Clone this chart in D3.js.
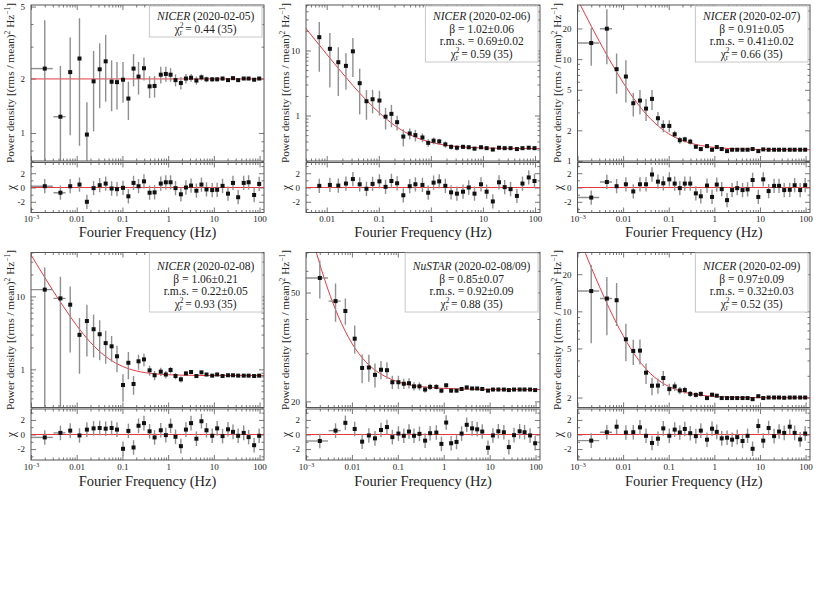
<!DOCTYPE html>
<html>
<head>
<meta charset="utf-8">
<script src="https://cdn.jsdelivr.net/npm/d3@7"></script>
<style>
body { margin: 0; background: #fff; }
svg text { font-family: 'Liberation Serif', 'Times New Roman', Times, serif; fill: #222; }
</style>
</head>
<body>
<div id="chart"></div>
<script>
// parameters
var svgWidth = 814;
var svgHeight = 610;

// frequency bins (Hz), shared by all panels
var freq = [0.002, 0.0044, 0.0072, 0.0115, 0.0167, 0.0234, 0.0318, 0.043, 0.058, 0.076,
    0.103, 0.135, 0.175, 0.225, 0.296, 0.393, 0.505, 0.69, 0.89, 1.13,
    1.45, 1.9, 2.45, 3.17, 4.15, 5.35, 6.9, 9.2, 11.8, 15.5,
    20.4, 26.2, 34, 45, 57.6, 76, 98];
// widths of the two lowest bins
var binLo = [0.001, 0.0031];
var binHi = [0.003, 0.0057];

// frequencies where the model curves were read
var modelFreq = [0.001, 0.0015, 0.002, 0.003, 0.005, 0.01, 0.02, 0.05, 0.1, 0.2, 0.5, 1, 2, 5, 20, 125];

// NICER 2020-02-05
var p1Power = [2.27, 1.23, 2.17, 2.58, 0.98, 1.93, 2.25, 2.49, 1.92, 1.91, 1.97, 1.55, 2.27, 2.05, 2.28, 1.81, 1.82, 2.1, 2.12, 2.1,
    1.96, 1.89, 2.0, 2.02, 1.95, 2.03, 1.98, 1.98, 1.98, 2.0, 1.96, 2.01, 1.96, 2.0, 2.0, 1.97, 2.0];
var p1Err = [1.93, 1.12, 1.2, 1.73, 0.5, 0.91, 0.88, 1.0, 0.6, 0.56, 0.5, 0.37, 0.46, 0.42, 0.33, 0.25, 0.25, 0.22, 0.2, 0.18,
    0.15, 0.15, 0.12, 0.1, 0.1, 0.08, 0.07, 0.06, 0.05, 0.05, 0.04, 0.04, 0.03, 0.03, 0.03, 0.03, 0.03];
var p1Chi = [0.18, -0.73, 0.18, 0.41, -2.0, -0.09, 0.32, 0.55, -0.14, -0.23, -0.05, -1.23, 0.64, 0.18, 0.86, -0.73, -0.68, 0.55, 0.73, 0.73,
    -0.09, -0.95, 0.0, 0.27, -0.45, 0.41, -0.27, -0.36, -0.32, 0.23, -0.86, 0.64, -1.36, 0.64, 0.73, -1.05, 0.5];
var p1Model = [1.99, 1.99, 1.99, 1.99, 1.99, 1.99, 1.99, 1.99, 1.99, 1.99, 1.99, 1.99, 1.99, 1.99, 1.99, 1.99];
var p1Legend = ["NICER", "2020-02-05", null, null, "0.44 (35)"];

// NICER 2020-02-06 (starts at the third bin)
var p2Power = [16.0, 10.6, 6.6, 5.8, 9.7, 3.14, 1.66, 1.78, 1.7, 0.96, 1.06, 0.79, 0.475, 0.53, 0.5, 0.46, 0.38, 0.41, 0.4, 0.36,
    0.33, 0.32, 0.33, 0.325, 0.31, 0.325, 0.315, 0.3, 0.32, 0.315, 0.315, 0.305, 0.315, 0.32, 0.315];
var p2Err = [11.3, 7.9, 4.6, 3.3, 5.8, 2.1, 0.8, 0.7, 0.7, 0.35, 0.4, 0.2, 0.14, 0.1, 0.1, 0.07, 0.05, 0.05, 0.04, 0.04,
    0.03, 0.03, 0.025, 0.02, 0.02, 0.02, 0.015, 0.015, 0.015, 0.012, 0.012, 0.01, 0.01, 0.01, 0.01];
var p2Chi = [0.23, 0.36, 0.27, 0.55, 1.18, 0.45, -0.18, 0.5, 0.86, 0.09, 0.91, 0.59, -1.09, 0.18, 0.45, 0.36, -0.73, 0.68, 0.86, 0.23,
    -0.68, -0.86, -0.59, 0.0, -0.86, 0.45, -0.59, -1.95, 0.73, 0.05, -0.23, -1.18, 0.55, 1.41, 0.91];
var p2Model = [89.9, 58.7, 43.9, 29.1, 17.4, 8.75, 4.48, 1.94, 1.12, 0.707, 0.466, 0.387, 0.348, 0.325, 0.314, 0.31];
var p2Legend = ["NICER", "2020-02-06", "1.02\u00b10.06", "0.69\u00b10.02", "0.59 (35)"];

// NICER 2020-02-07
var p3Power = [14.4, 19.9, 7.97, 6.75, 3.69, 3.92, 3.27, 4.07, 2.63, 2.21, 2.21, 1.83, 1.6, 1.63, 1.55, 1.38, 1.31, 1.4, 1.29, 1.37,
    1.31, 1.25, 1.29, 1.29, 1.29, 1.29, 1.31, 1.25, 1.3, 1.29, 1.29, 1.29, 1.29, 1.29, 1.29, 1.29, 1.29];
var p3Err = [5.8, 11, 3.4, 3.0, 0.95, 1.06, 0.8, 0.9, 0.4, 0.3, 0.3, 0.15, 0.12, 0.1, 0.1, 0.07, 0.06, 0.06, 0.05, 0.05,
    0.04, 0.04, 0.03, 0.03, 0.03, 0.02, 0.02, 0.02, 0.02, 0.015, 0.015, 0.015, 0.01, 0.01, 0.01, 0.01, 0.01];
var p3Chi = [-1.41, 0.77, 0.18, 0.45, -0.55, 0.45, 0.45, 1.82, 0.82, 0.59, 1.14, 0.55, -0.09, 0.55, 0.55, -0.82, -1.23, 0.27, -1.32, 0.41,
    -0.23, -1.77, -0.36, -0.09, -0.36, -0.27, 1.05, -1.32, 1.14, -0.5, 0.23, 0.23, -0.36, -0.32, 0.32, -0.36, 0.32];
var p3Model = [38.6, 27.1, 21.1, 15.0, 9.9, 5.88, 3.73, 2.35, 1.85, 1.59, 1.42, 1.36, 1.327, 1.306, 1.295, 1.29];
var p3Legend = ["NICER", "2020-02-07", "0.91\u00b10.05", "0.41\u00b10.02", "0.66 (35)"];

// NICER 2020-02-08
var p4Power = [12.4, 9.4, 7.7, 2.97, 4.6, 3.55, 3.03, 2.29, 2.07, 1.51, 0.61, 1.23, 0.63, 1.29, 1.37, 0.97, 0.83, 0.93, 0.85, 0.98,
    0.81, 0.73, 0.88, 0.92, 0.81, 0.91, 0.85, 0.82, 0.85, 0.81, 0.83, 0.83, 0.82, 0.82, 0.82, 0.81, 0.82];
var p4Err = [12.5, 9.2, 6.0, 2.1, 3.1, 2.1, 1.7, 1.1, 0.8, 0.6, 0.25, 0.5, 0.18, 0.3, 0.27, 0.15, 0.12, 0.12, 0.1, 0.1,
    0.08, 0.07, 0.06, 0.06, 0.05, 0.05, 0.04, 0.03, 0.03, 0.03, 0.025, 0.02, 0.02, 0.02, 0.015, 0.015, 0.015];
var p4Chi = [-0.4, 0.22, 0.53, -0.13, 0.67, 0.84, 0.89, 0.8, 0.89, 0.67, -1.96, 0.49, -1.78, 1.2, 1.56, 0.44, -0.4, 0.58, -0.09, 1.2,
    -0.31, -1.6, 0.67, 1.56, -0.58, 1.82, 0.58, -0.18, 0.84, -0.22, 0.71, 0.36, -0.18, 0.22, -0.36, -1.47, -0.18];
var p4Model = [37.1, 24.4, 18.2, 12.1, 7.42, 3.98, 2.34, 1.40, 1.10, 0.952, 0.87, 0.844, 0.832, 0.824, 0.821, 0.82];
var p4Legend = ["NICER", "2020-02-08", "1.06\u00b10.21", "0.22\u00b10.05", "0.93 (35)"];

// NuSTAR 2020-02-08/09
var p5Power = [56.5, 46.5, 42.8, 33.9, 26.5, 26.6, 25.0, 26.1, 26.0, 23.5, 23.5, 23.2, 23.3, 22.7, 22.7, 22.1, 22.6, 22.6, 21.9, 22.9,
    21.9, 21.9, 22.2, 22.5, 22.3, 22.3, 22.2, 21.9, 22.1, 22.1, 22.1, 22.0, 22.1, 22.1, 22.1, 22.1, 22.0];
var p5Err = [9, 7.4, 4.7, 4, 3.2, 3, 2.5, 2, 1.8, 1.3, 1.3, 1, 1, 0.8, 0.8, 0.6, 0.6, 0.5, 0.5, 0.45,
    0.4, 0.35, 0.3, 0.3, 0.25, 0.25, 0.2, 0.2, 0.2, 0.15, 0.15, 0.15, 0.12, 0.12, 0.1, 0.1, 0.1];
var p5Chi = [-0.89, 0.53, 1.6, 0.76, -0.98, -0.13, -0.53, 0.62, 1.02, -0.36, 0.13, -0.18, 0.4, -0.18, 0.09, -0.84, 0.18, 0.27, -1.29, 1.64,
    -1.2, -1.02, 0.13, 1.33, 0.84, 0.71, 0.4, -1.82, -0.13, 0.44, 0.31, -1.73, -0.09, 0.44, 0.31, -0.13, -1.2];
var p5Model = [96.6, 74.9, 63.4, 51.4, 41.1, 32.6, 27.9, 24.8, 23.6, 22.9, 22.5, 22.31, 22.22, 22.15, 22.12, 22.1];
var p5Legend = ["NuSTAR", "2020-02-08/09", "0.85\u00b10.07", "0.92\u00b10.09", "0.88 (35)"];

// NICER 2020-02-09
var p6Power = [14.6, 12.7, 12.3, 5.93, 4.77, 4.8, 3.18, 2.49, 2.5, 2.88, 2.34, 2.46, 2.28, 2.3, 2.14, 2.1, 2.14, 1.98, 2.11, 2.07,
    1.98, 1.98, 1.98, 1.98, 1.98, 1.98, 1.94, 2.05, 1.98, 2.0, 2.0, 2.0, 1.99, 2.0, 2.0, 2.0, 2.0];
var p6Err = [9.1, 6.3, 4.7, 2.0, 1.1, 1.1, 0.6, 0.4, 0.35, 0.4, 0.25, 0.2, 0.15, 0.15, 0.12, 0.1, 0.1, 0.08, 0.07, 0.06,
    0.05, 0.05, 0.04, 0.04, 0.04, 0.03, 0.03, 0.03, 0.03, 0.02, 0.02, 0.02, 0.02, 0.02, 0.015, 0.015, 0.015];
var p6Chi = [-0.84, 0.31, 1.07, 0.27, 0.31, 0.98, -0.18, -1.16, -0.58, 0.84, -0.18, 0.67, 0.27, 0.76, 0.18, -0.22, 0.53, -0.71, 0.8, 0.36,
    -0.53, -0.44, -0.71, -0.36, -0.89, -0.18, -1.96, 1.16, -0.84, 0.89, -0.22, 0.4, 0.22, 1.07, 0.22, -0.67, 0.13];
var p6Model = [42.6, 29.4, 22.7, 16.0, 10.5, 6.35, 4.21, 2.90, 2.46, 2.23, 2.09, 2.04, 2.016, 2.0, 1.993, 1.99];
var p6Legend = ["NICER", "2020-02-09", "0.97\u00b10.09", "0.32\u00b10.03", "0.52 (35)"];

// layout
var cols = [{left: 31, right: 264}, {left: 306, right: 540}, {left: 577.5, right: 810}];
var rows = [
    {top: 5, mainBottom: 161, resTop: 162.5, resBottom: 212.5, titleY: 237, boxTop: 6, textTop: 20},
    {top: 252.5, mainBottom: 407.5, resTop: 409, resBottom: 460, titleY: 486, boxTop: 253, textTop: 270}
];

var panels = [
    {row: 0, col: 0, first: 0, power: p1Power, err: p1Err, chi: p1Chi, model: p1Model, legend: p1Legend,
        xDomain: [0.001, 125], yDomain: [0.7, 5.1], yLabels: [1, 2, 5]},
    {row: 0, col: 1, first: 2, power: p2Power, err: p2Err, chi: p2Chi, model: p2Model, legend: p2Legend,
        xDomain: [0.004, 125], yDomain: [0.2, 50], yLabels: [1, 10]},
    {row: 0, col: 2, first: 0, power: p3Power, err: p3Err, chi: p3Chi, model: p3Model, legend: p3Legend,
        xDomain: [0.001, 125], yDomain: [1, 34], yLabels: [1, 2, 5, 10, 20]},
    {row: 1, col: 0, first: 0, power: p4Power, err: p4Err, chi: p4Chi, model: p4Model, legend: p4Legend,
        xDomain: [0.001, 125], yDomain: [0.3, 40], yLabels: [1, 10]},
    {row: 1, col: 1, first: 0, power: p5Power, err: p5Err, chi: p5Chi, model: p5Model, legend: p5Legend,
        xDomain: [0.001, 125], yDomain: [19, 70], yLabels: [20, 50]},
    {row: 1, col: 2, first: 0, power: p6Power, err: p6Err, chi: p6Chi, model: p6Model, legend: p6Legend,
        xDomain: [0.001, 125], yDomain: [1.66, 30], yLabels: [2, 5, 10, 20]}
];

var fontFamily = "'Liberation Serif', 'Times New Roman', Times, serif";
var frameColor = "#555";
var errColor = "#8f8f8f";
var modelColor = "#e8383d";

var svg = d3.select("#chart")
    .append("svg")
    .attr("width", svgWidth)
    .attr("height", svgHeight)
    .attr("font-family", fontFamily);

svg.append("rect").attr("width", svgWidth).attr("height", svgHeight).attr("fill", "#fff");

panels.forEach(function (p, i) {
    drawPanel(p, i);
});

function isMajor(v, majors) {
    return majors.some(function (m) { return Math.abs(v - m) / m < 1e-6; });
}

function tickLayer(g, axis, tx, ty, vals, size, fmt, pad) {
    var a = g.append("g")
        .attr("transform", `translate(${tx}, ${ty})`)
        .call(axis.tickValues(vals).tickSizeInner(-size).tickSizeOuter(0)
            .tickPadding(pad || 4).tickFormat(fmt || (() => "")));
    a.select(".domain").remove();
    a.attr("font-family", fontFamily).attr("font-size", null);
    a.selectAll("line").attr("stroke", frameColor).attr("stroke-width", 0.8);
    a.selectAll("text").attr("fill", "#333").attr("font-size", "9px");
    return a;
}

function drawPanel(p, idx) {
    var c = cols[p.col];
    var r = rows[p.row];
    var g = svg.append("g");

    var x = d3.scaleLog().domain(p.xDomain).range([c.left, c.right]);
    var y = d3.scaleLog().domain(p.yDomain).range([r.mainBottom, r.top]);
    var yr = d3.scaleLinear().domain([-3.5, 3.5]).range([r.resBottom, r.resTop]);

    var f = freq.slice(p.first);

    // clip paths
    var mainClip = "main-clip-" + idx;
    var resClip = "res-clip-" + idx;
    var defs = g.append("defs");
    defs.append("clipPath").attr("id", mainClip).append("rect")
        .attr("x", c.left).attr("y", r.top)
        .attr("width", c.right - c.left).attr("height", r.mainBottom - r.top);
    defs.append("clipPath").attr("id", resClip).append("rect")
        .attr("x", c.left).attr("y", r.resTop)
        .attr("width", c.right - c.left).attr("height", r.resBottom - r.resTop);

    // ticks x
    var xMajors = [0.001, 0.01, 0.1, 1, 10, 100].filter(v => v >= p.xDomain[0] && v <= p.xDomain[1]);
    var xMinors = x.ticks().filter(v => !isMajor(v, xMajors));
    [r.mainBottom, r.resBottom].forEach(function (yy) {
        tickLayer(g, d3.axisBottom(x), 0, yy, xMinors, 2.5);
    });
    [r.top, r.resTop].forEach(function (yy) {
        tickLayer(g, d3.axisTop(x), 0, yy, xMinors, 2.5);
        tickLayer(g, d3.axisTop(x), 0, yy, xMajors, 5);
    });
    tickLayer(g, d3.axisBottom(x), 0, r.mainBottom, xMajors, 5);
    var xl = tickLayer(g, d3.axisBottom(x), 0, r.resBottom, xMajors, 5, function (d) {
        return d === 0.001 ? "10" : String(d);
    }, 3.5);
    xl.selectAll("text").filter(d => d === 0.001)
        .append("tspan").attr("font-size", "6px").attr("dy", "-3").text("\u22123");

    // ticks y main
    var yMajors = p.yLabels;
    var yMinors = y.ticks().filter(v => !isMajor(v, yMajors));
    tickLayer(g, d3.axisLeft(y), c.left, 0, yMinors, 2.5);
    tickLayer(g, d3.axisLeft(y), c.left, 0, yMajors, 5, d => String(d), 6);
    tickLayer(g, d3.axisRight(y), c.right, 0, yMinors, 2.5);
    tickLayer(g, d3.axisRight(y), c.right, 0, yMajors, 5);

    // ticks y residuals
    tickLayer(g, d3.axisLeft(yr), c.left, 0, [-3, -1, 1, 3], 2.5);
    tickLayer(g, d3.axisLeft(yr), c.left, 0, [-2, 0, 2], 5, d => String(d), 6);
    tickLayer(g, d3.axisRight(yr), c.right, 0, [-3, -1, 1, 3], 2.5);
    tickLayer(g, d3.axisRight(yr), c.right, 0, [-2, 0, 2], 5);

    // model curve
    var modelPts = modelFreq.map((fr, k) => [fr, p.model[k]]);
    var line = d3.line()
        .x(d => x(d[0]))
        .y(d => y(d[1]))
        .curve(d3.curveMonotoneX);
    g.append("path")
        .attr("clip-path", `url(#${mainClip})`)
        .attr("d", line(modelPts))
        .attr("fill", "none")
        .attr("stroke", modelColor)
        .attr("stroke-width", 1);

    // residual zero line
    g.append("line")
        .attr("x1", c.left).attr("x2", c.right)
        .attr("y1", yr(0)).attr("y2", yr(0))
        .attr("stroke", modelColor).attr("stroke-width", 1);

    var pts = f.map((fr, k) => ({f: fr, k: k + p.first, v: p.power[k], e: p.err[k], chi: p.chi[k]}));

    var mainG = g.append("g").attr("clip-path", `url(#${mainClip})`);
    var resG = g.append("g").attr("clip-path", `url(#${resClip})`);

    // vertical error bars
    mainG.selectAll(".ebar")
        .data(pts)
        .enter()
        .append("line")
        .attr("x1", d => x(d.f)).attr("x2", d => x(d.f))
        .attr("y1", d => d.v - d.e > 0 ? y(d.v - d.e) : r.mainBottom + 10)
        .attr("y2", d => y(d.v + d.e))
        .attr("stroke", errColor).attr("stroke-width", 1.4);

    resG.selectAll(".rbar")
        .data(pts)
        .enter()
        .append("line")
        .attr("x1", d => x(d.f)).attr("x2", d => x(d.f))
        .attr("y1", d => yr(d.chi - 1))
        .attr("y2", d => yr(d.chi + 1))
        .attr("stroke", errColor).attr("stroke-width", 1.4);

    // horizontal bars for the two wide low-frequency bins
    var wide = pts.filter(d => d.k < binLo.length);
    mainG.selectAll(".hbar")
        .data(wide)
        .enter()
        .append("line")
        .attr("x1", d => x(binLo[d.k])).attr("x2", d => x(binHi[d.k]))
        .attr("y1", d => y(d.v)).attr("y2", d => y(d.v))
        .attr("stroke", errColor).attr("stroke-width", 1.4);
    resG.selectAll(".hbar")
        .data(wide)
        .enter()
        .append("line")
        .attr("x1", d => x(binLo[d.k])).attr("x2", d => x(binHi[d.k]))
        .attr("y1", d => yr(d.chi)).attr("y2", d => yr(d.chi))
        .attr("stroke", errColor).attr("stroke-width", 1.4);

    // markers
    mainG.selectAll(".pt")
        .data(pts)
        .enter()
        .append("rect")
        .attr("x", d => x(d.f) - 2).attr("y", d => y(d.v) - 2)
        .attr("width", 4).attr("height", 4)
        .attr("fill", "#111");
    resG.selectAll(".pt")
        .data(pts)
        .enter()
        .append("rect")
        .attr("x", d => x(d.f) - 2).attr("y", d => yr(d.chi) - 2)
        .attr("width", 4).attr("height", 4)
        .attr("fill", "#111");

    // frames
    g.append("rect")
        .attr("x", c.left).attr("y", r.top)
        .attr("width", c.right - c.left).attr("height", r.mainBottom - r.top)
        .attr("fill", "none").attr("stroke", frameColor).attr("stroke-width", 1);
    g.append("rect")
        .attr("x", c.left).attr("y", r.resTop)
        .attr("width", c.right - c.left).attr("height", r.resBottom - r.resTop)
        .attr("fill", "none").attr("stroke", frameColor).attr("stroke-width", 1);

    // axis titles
    var yt = g.append("text")
        .attr("transform", `translate(${c.left - 17}, ${(r.top + r.mainBottom) / 2}) rotate(-90)`)
        .attr("text-anchor", "middle")
        .attr("font-size", "11.3px")
        .text("Power density [(rms / mean)");
    yt.append("tspan").attr("font-size", "7.5px").attr("dy", -4).text("2");
    yt.append("tspan").attr("dy", 4).text(" Hz");
    yt.append("tspan").attr("font-size", "7.5px").attr("dy", -4).text("\u22121");
    yt.append("tspan").attr("dy", 4).text("]");

    g.append("text")
        .attr("transform", `translate(${c.left - 16}, ${(r.resTop + r.resBottom) / 2}) rotate(-90)`)
        .attr("text-anchor", "middle")
        .attr("font-size", "12px")
        .text("\u03c7");

    g.append("text")
        .attr("x", (c.left + c.right) / 2)
        .attr("y", r.titleY)
        .attr("text-anchor", "middle")
        .attr("font-size", "14.5px")
        .text("Fourier Frequency (Hz)");

    // legend box
    var box = g.append("rect")
        .attr("fill", "#fff")
        .attr("stroke", "#c8c8c8")
        .attr("stroke-width", 1);
    var lg = g.append("g");
    var lines = 0;
    var lineH = 12.5;

    var t0 = lg.append("text").attr("y", r.textTop).attr("text-anchor", "middle").attr("font-size", "11.5px");
    t0.append("tspan").attr("font-style", "italic").text(p.legend[0]);
    t0.append("tspan").text(" (" + p.legend[1] + ")");
    lines++;
    if (p.legend[2]) {
        lg.append("text").attr("y", r.textTop + lines * lineH).attr("text-anchor", "middle")
            .attr("font-size", "11.5px").text("\u03b2 = " + p.legend[2]);
        lines++;
        lg.append("text").attr("y", r.textTop + lines * lineH).attr("text-anchor", "middle")
            .attr("font-size", "11.5px").text("r.m.s. = " + p.legend[3]);
        lines++;
    }
    var tc = lg.append("text").attr("y", r.textTop + lines * lineH).attr("text-anchor", "middle")
        .attr("font-size", "11.5px").text("\u03c7");
    tc.append("tspan").attr("font-size", "7.5px").attr("dy", -4.5).text("2");
    tc.append("tspan").attr("font-size", "7.5px").attr("dx", -3.8).attr("dy", 7).text("r");
    tc.append("tspan").attr("dy", -2.5).text(" = " + p.legend[4]);

    var bw = lg.node().getBBox().width + 14;
    var bx = c.right - 2 - bw;
    var by = r.boxTop;
    var bh = r.textTop + lines * lineH + 4.5 - by;
    box.attr("x", bx).attr("y", by).attr("width", bw).attr("height", bh);
    lg.attr("transform", `translate(${bx + bw / 2}, 0)`);
}
</script>
</body>
</html>
